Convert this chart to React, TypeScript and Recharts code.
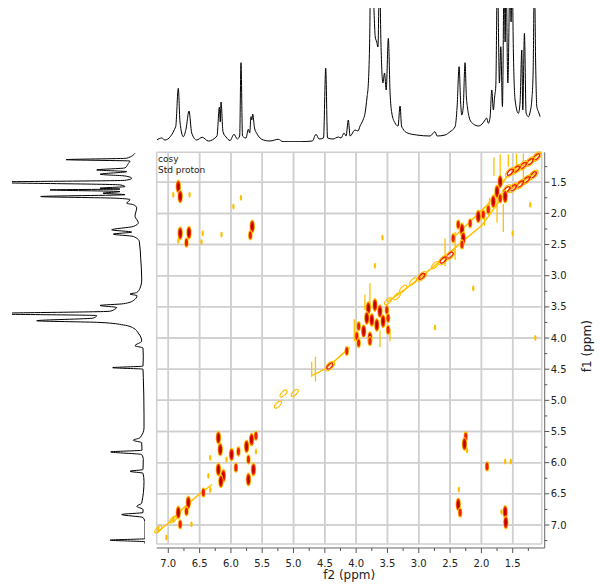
import React from 'react';
import { ScatterChart, Scatter, XAxis, YAxis, CartesianGrid, ReferenceLine } from 'recharts';

// ---------- axis domains & ticks (ppm) ----------
const F2_DOMAIN: [number, number] = [1.037, 7.185];
const F1_DOMAIN: [number, number] = [1.02, 7.305];
const F2_TICKS = [7.0, 6.75, 6.5, 6.25, 6.0, 5.75, 5.5, 5.25, 5.0, 4.75, 4.5, 4.25, 4.0, 3.75, 3.5, 3.25, 3.0, 2.75, 2.5, 2.25, 2.0, 1.75, 1.5, 1.25];
const F1_TICKS = [1.25, 1.5, 1.75, 2.0, 2.25, 2.5, 2.75, 3.0, 3.25, 3.5, 3.75, 4.0, 4.25, 4.5, 4.75, 5.0, 5.25, 5.5, 5.75, 6.0, 6.25, 6.5, 6.75, 7.0, 7.25];
const GRID_F2 = [7.0, 6.5, 6.0, 5.5, 5.0, 4.5, 4.0, 3.5, 3.0, 2.5, 2.0, 1.5];
const GRID_F1 = [1.5, 2.0, 2.5, 3.0, 3.5, 4.0, 4.5, 5.0, 5.5, 6.0, 6.5, 7.0];

// ---------- 1D proton projection on top (ppm, intensity) ----------
const topSpectrum: [number, number][] = [
  [7.185, 2], [7.105, 4], [7.053, 2], [6.882, 15.3], [6.84, 53.7], [6.813, 20], [6.76, 5.3], [6.717, 13], [6.669, 31],
  [6.626, 9], [6.546, 2], [6.457, 4.7], [6.361, 1], [6.222, 6], [6.185, 34.7], [6.17, 20], [6.158, 40], [6.126, 10],
  [6.078, 5], [6.014, 1.5], [5.95, 7.7], [5.898, 3], [5.86, 6], [5.839, 79.3], [5.815, 6], [5.759, 4], [5.722, 12.7],
  [5.70, 9], [5.679, 25.3], [5.666, 22], [5.652, 28], [5.623, 14], [5.588, 8.7], [5.535, 4], [5.482, 2], [5.375, 1],
  [5.243, 2.7], [5.168, 0.3], [4.896, 0.3], [4.70, 1], [4.641, 7.7], [4.593, 3], [4.521, 4], [4.486, 73.7], [4.457, 4],
  [4.369, 3], [4.284, 5], [4.241, 4], [4.193, 9], [4.161, 6], [4.125, 22], [4.097, 6], [4.018, 12], [3.97, 11],
  [3.938, 16], [3.89, 22], [3.858, 28.7], [3.826, 45], [3.805, 58.7], [3.786, 95], [3.767, 170], [3.738, 170],
  [3.714, 130], [3.695, 105], [3.671, 100], [3.652, 95], [3.627, 170], [3.604, 99], [3.573, 59], [3.547, 69],
  [3.52, 52], [3.486, 103.7], [3.458, 49], [3.431, 29], [3.379, 19], [3.331, 16], [3.299, 36], [3.275, 16],
  [3.251, 13], [3.192, 9.3], [3.032, 7], [2.82, 6], [2.74, 10.3], [2.708, 6], [2.58, 7], [2.5, 10.3], [2.42, 15.3],
  [2.388, 35], [2.356, 75.3], [2.332, 40], [2.313, 27], [2.29, 35], [2.261, 79.3], [2.24, 45], [2.224, 35.3],
  [2.181, 22], [2.128, 18], [2.048, 16], [1.989, 18], [1.941, 22], [1.917, 24], [1.888, 18.7], [1.861, 25],
  [1.834, 52], [1.809, 32], [1.789, 45], [1.77, 56], [1.744, 170], [1.712, 59], [1.69, 95.3], [1.664, 35.3],
  [1.637, 170], [1.621, 100], [1.606, 170], [1.578, 59], [1.542, 170], [1.526, 120], [1.509, 170], [1.489, 89],
  [1.462, 42], [1.409, 28.7], [1.382, 40], [1.355, 92], [1.339, 32], [1.313, 108.7], [1.286, 29], [1.249, 25.3],
  [1.222, 30], [1.195, 42], [1.174, 70], [1.153, 170], [1.134, 80], [1.115, 35.3], [1.089, 30.3], [1.062, 25.3],
];

// ---------- 1D proton projection on the left (ppm, intensity) ----------
const leftSpectrum: [number, number][] = [
  [1.035, 10], [1.115, 18.3], [1.138, 79], [1.16, 15], [1.20, 16.7], [1.27, 20], [1.303, 48.3], [1.33, 18.3],
  [1.372, 45], [1.40, 20], [1.437, 13.3], [1.47, 20], [1.50, 160], [1.543, 25], [1.57, 20], [1.596, 45], [1.61, 25],
  [1.623, 95], [1.65, 25], [1.676, 42], [1.70, 20], [1.73, 104.3], [1.757, 28.3], [1.78, 15], [1.837, 18.3],
  [1.86, 11.7], [1.91, 8.3], [2.045, 10], [2.15, 6.7], [2.21, 11.7], [2.264, 33.3], [2.30, 13.3], [2.333, 31.7],
  [2.37, 11.7], [2.45, 5.7], [2.72, 4.3], [3.04, 3.3], [3.07, 3.3], [3.20, 5], [3.27, 8.3], [3.295, 15], [3.32, 8],
  [3.40, 11.7], [3.45, 21.7], [3.478, 45], [3.51, 28.3], [3.535, 30], [3.57, 35], [3.61, 160], [3.64, 48.3],
  [3.68, 51.7], [3.723, 108.3], [3.75, 45], [3.79, 21.7], [3.84, 11.7], [3.92, 6.7], [4.05, 3.3], [4.124, 10],
  [4.16, 2], [4.30, 1.7], [4.45, 2], [4.476, 32.3], [4.50, 2], [4.63, 1.7], [5.23, 1], [5.44, 1], [5.60, 5],
  [5.64, 11.7], [5.68, 3.3], [5.80, 3], [5.827, 34.3], [5.87, 3.3], [5.95, 1.7], [6.11, 2], [6.138, 15], [6.17, 2],
  [6.30, 1], [6.65, 3.3], [6.70, 8.3], [6.75, 2], [6.80, 2], [6.832, 23.3], [6.88, 2], [6.96, 0], [7.22, 0],
  [7.243, 35], [7.27, 0], [7.30, 0],
];

// ---------- COSY contours: cross peaks (f2, f1, contour level) ----------
const crossPeaks: [number, number, number][] = [
  [6.84, 1.57, 3], [6.81, 1.73, 3], [6.92, 1.70, 1], [6.66, 1.70, 1], [5.84, 1.75, 1], [5.96, 1.89, 1],
  [6.81, 2.32, 3], [6.67, 2.31, 3], [6.71, 2.47, 2], [6.45, 2.32, 1], [6.15, 2.34, 1], [6.47, 2.46, 1], [6.84, 2.44, 1],
  [5.66, 2.21, 3], [5.69, 2.35, 2],
  [2.25, 5.58, 2], [2.27, 5.70, 3], [2.23, 5.80, 1],
  [1.91, 6.06, 2], [1.62, 5.98, 1], [1.53, 5.98, 1],
  [2.36, 6.43, 1], [2.37, 6.67, 3], [2.34, 6.80, 2],
  [1.62, 6.79, 3], [1.61, 6.96, 3], [1.68, 6.79, 1],
  [2.74, 3.83, 1], [1.14, 4.00, 1], [3.58, 2.39, 1], [3.70, 2.84, 1], [2.13, 3.20, 1], [1.22, 1.86, 1], [1.50, 2.32, 1],
  [6.20, 5.60, 3], [6.17, 5.79, 3], [5.99, 5.87, 3], [5.88, 5.82, 2], [5.75, 5.74, 3], [5.67, 5.63, 3], [5.60, 5.57, 2],
  [5.72, 5.95, 2], [5.92, 6.08, 2], [6.20, 6.11, 3], [6.12, 6.21, 3], [6.16, 6.30, 3], [5.64, 6.11, 3], [5.72, 6.27, 3],
  [6.07, 5.95, 1], [6.33, 5.92, 1], [5.60, 5.82, 1], [6.36, 6.21, 1], [6.33, 6.44, 1],
  [6.44, 6.48, 2], [6.68, 6.64, 3], [6.71, 6.78, 2], [6.84, 6.80, 3], [6.81, 6.99, 2], [6.92, 6.91, 1],
  [7.16, 7.07, 1], [7.03, 7.20, 1], [6.63, 6.99, 1],
  [3.805, 3.52, 3], [3.70, 3.47, 3], [3.62, 3.57, 3], [3.51, 3.55, 2], [3.83, 3.68, 3], [3.75, 3.71, 3],
  [3.67, 3.79, 3], [3.57, 3.73, 3], [3.49, 3.68, 2], [3.96, 3.81, 2], [3.88, 3.89, 3], [3.78, 4.00, 3],
  [3.99, 3.97, 2], [3.49, 3.87, 2], [3.78, 4.05, 2], [3.96, 4.08, 2], [4.15, 4.21, 2],
  [1.70, 1.49, 3], [1.75, 1.65, 3], [1.62, 1.73, 3], [1.70, 1.76, 2], [1.81, 1.81, 3], [1.89, 1.94, 2],
  [1.97, 2.02, 2], [2.05, 2.05, 3], [2.18, 2.16, 2], [2.31, 2.26, 3], [2.37, 2.18, 2], [2.45, 2.40, 2],
  [2.29, 2.40, 3], [2.31, 2.50, 2],
];

// ---------- COSY contours: peaks lying along the diagonal (f2, f1, level) ----------
const diagonalPeaks: [number, number, number][] = [
  [1.117, 1.09, 2], [1.224, 1.17, 2], [1.33, 1.23, 2], [1.44, 1.29, 2], [1.54, 1.34, 2],
  [1.17, 1.38, 2], [1.28, 1.46, 2], [1.38, 1.53, 2], [1.49, 1.59, 2], [1.595, 1.62, 2],
  [2.50, 2.67, 2], [2.61, 2.75, 2], [2.74, 2.83, 1], [2.95, 3.01, 2], [3.09, 3.09, 1], [3.25, 3.21, 1],
  [3.35, 3.33, 1], [3.49, 3.41, 1], [4.42, 4.45, 2], [4.98, 4.88, 1], [5.25, 5.07, 1], [5.16, 4.89, 1],
  [6.92, 6.91, 1], [7.16, 7.07, 1],
];

// ---------- lowest contour ridges along the diagonal (f2, f1) ----------
const ridgeUpper: [number, number][] = [[1.05, 1.03], [1.3, 1.2], [1.6, 1.42], [1.9, 1.86], [2.2, 2.15], [2.48, 2.42]];
const ridgeLower: [number, number][] = [[1.10, 1.33], [1.6, 1.65], [2.0, 2.2], [2.3, 2.45], [2.7, 2.8], [3.0, 3.05], [3.3, 3.28], [3.5, 3.42]];
const ridgeMiddle: [number, number][] = [[4.1, 4.15], [4.3, 4.33], [4.5, 4.5], [4.7, 4.6]];
const ridgeAromatic: [number, number][] = [[6.3, 6.35], [6.5, 6.5], [6.75, 6.72], [6.95, 6.93], [7.18, 7.12]];

// ---------- t1-noise streaks (f2, f1 start, f1 end) ----------
const noiseStreaks: [number, number, number][] = [
  [1.70, 1.05, 1.55], [1.33, 1.04, 1.45], [1.44, 1.04, 1.28], [1.57, 1.05, 1.25], [1.75, 1.60, 2.15],
  [1.65, 1.85, 2.30], [1.87, 1.75, 2.05], [1.95, 2.00, 2.20], [2.42, 2.30, 2.75], [2.58, 2.40, 2.85],
  [3.78, 3.12, 3.50], [3.86, 3.30, 3.55], [3.62, 3.88, 4.15], [4.03, 3.70, 4.05], [4.65, 4.30, 4.70],
  [4.71, 4.38, 4.62], [3.46, 3.85, 4.05], [1.80, 1.10, 1.40],
];

const YEL = '#FFC000';
const RED = '#EE1C00';
const DRK = '#B00000';
const GRID = '#cfcfcf';
const FONT = 'DejaVu Sans, Verdana, sans-serif';
const MAIN_MARGIN = { top: 152.3, right: 0, bottom: 0, left: 156.7 };

const noDot = () => <g />;
const emptyTick = () => <g />;

const CrossPeak = (p: any) => {
  const { cx, cy, payload } = p;
  const lv = payload.level;
  if (lv === 1) return <ellipse cx={cx} cy={cy} rx={1.2} ry={3} fill={YEL} />;
  if (lv === 2)
    return (
      <g>
        <ellipse cx={cx} cy={cy} rx={2.2} ry={5.2} fill={YEL} />
        <ellipse cx={cx} cy={cy} rx={1.5} ry={3.8} fill={RED} />
      </g>
    );
  return (
    <g>
      <ellipse cx={cx} cy={cy} rx={2.7} ry={7} fill={YEL} />
      <ellipse cx={cx} cy={cy} rx={2.0} ry={5.6} fill={RED} />
      <ellipse cx={cx} cy={cy} rx={1.0} ry={3.4} fill={DRK} />
    </g>
  );
};

const DiagPeak = (p: any) => {
  const { cx, cy, payload } = p;
  const lv = payload.level;
  return (
    <g transform={`rotate(-45 ${cx} ${cy})`}>
      <ellipse cx={cx} cy={cy} rx={lv === 1 ? 4.5 : 6} ry={lv === 1 ? 2 : 3} fill="none" stroke={YEL} strokeWidth={1.2} />
      {lv > 1 && <ellipse cx={cx} cy={cy} rx={3.8} ry={1.8} fill="none" stroke={RED} strokeWidth={1.3} />}
    </g>
  );
};

const BottomTick = (props: any) => {
  const { x, y, payload } = props;
  const v = payload.value as number;
  const major = Math.abs(v * 2 - Math.round(v * 2)) < 1e-6;
  return (
    <g>
      <line x1={x} x2={x} y1={y + 4} y2={y + (major ? 9 : 7)} stroke="#555" />
      {major && (
        <text x={x} y={y + 22.6} textAnchor="middle" fontSize={10} fill="#222" fontFamily={FONT}>
          {v.toFixed(1)}
        </text>
      )}
    </g>
  );
};

const RightTick = (props: any) => {
  const { x, y, payload } = props;
  const v = payload.value as number;
  const major = Math.abs(v * 2 - Math.round(v * 2)) < 1e-6;
  return (
    <g>
      <line x1={x + 3} x2={x + (major ? 7.6 : 5.6)} y1={y} y2={y} stroke="#555" />
      {major && (
        <text x={x + 9} y={y + 3.6} textAnchor="start" fontSize={10} fill="#222" fontFamily={FONT}>
          {v.toFixed(1)}
        </text>
      )}
    </g>
  );
};

const F2Title = (props: any) => {
  const vb = props.viewBox || { x: 156.7, y: 544, width: 385, height: 41 };
  return (
    <text x={vb.x + vb.width / 2} y={vb.y + 34.5} textAnchor="middle" fontSize={12} fill="#222" fontFamily={FONT}>
      f2 (ppm)
    </text>
  );
};

const F1Title = (props: any) => {
  const vb = props.viewBox || { x: 541.7, y: 152.3, width: 58.3, height: 391.7 };
  const x = vb.x + vb.width - 8.7;
  const y = vb.y + vb.height / 2 - 2;
  return (
    <text x={x} y={y} transform={`rotate(-90 ${x} ${y})`} textAnchor="middle" fontSize={12} fill="#222" fontFamily={FONT}>
      f1 (ppm)
    </text>
  );
};

const toXY = (arr: [number, number][]) => arr.map(([x, y]) => ({ x, y }));

export default function App() {
  const topData = toXY(topSpectrum);
  const leftData = leftSpectrum.map(([ppm, i]) => ({ x: i, y: ppm }));
  const crossData = crossPeaks.map(([x, y, level]) => ({ x, y, level }));
  const diagData = diagonalPeaks.map(([x, y, level]) => ({ x, y, level }));
  const ridges = [ridgeUpper, ridgeLower, ridgeMiddle, ridgeAromatic];
  const layer: React.CSSProperties = { position: 'absolute', left: 0, top: 0 };

  return (
    <div style={{ position: 'absolute', left: 0, top: 0, width: 600, height: 585, background: '#fff' }}>
      {/* top projection */}
      <div style={layer}>
        <ScatterChart width={600} height={150} margin={{ top: 8, right: 58.3, bottom: 8, left: 156.7 }}>
          <XAxis type="number" dataKey="x" domain={F2_DOMAIN} reversed hide allowDataOverflow />
          <YAxis type="number" dataKey="y" domain={[0, 134]} hide allowDataOverflow />
          <Scatter data={topData} line={{ stroke: '#000', strokeWidth: 1 }} lineJointType="monotoneX" shape={noDot} isAnimationActive={false} />
        </ScatterChart>
      </div>

      {/* left projection */}
      <div style={layer}>
        <ScatterChart width={150} height={585} margin={{ top: 152.3, right: 5, bottom: 41, left: 12 }}>
          <XAxis type="number" dataKey="x" domain={[0, 133]} reversed hide allowDataOverflow />
          <YAxis type="number" dataKey="y" domain={F1_DOMAIN} reversed hide allowDataOverflow />
          <Scatter data={leftData} line={{ stroke: '#000', strokeWidth: 1 }} lineJointType="monotoneY" shape={noDot} isAnimationActive={false} />
        </ScatterChart>
      </div>

      {/* 2D frame: grid + axes (peak positions registered but not drawn here) */}
      <div style={layer}>
        <ScatterChart width={600} height={585} margin={MAIN_MARGIN}>
          <XAxis
            xAxisId="g"
            orientation="top"
            type="number"
            dataKey="x"
            domain={F2_DOMAIN}
            reversed
            ticks={GRID_F2}
            interval={0}
            height={0}
            tick={emptyTick}
            tickLine={false}
            axisLine={false}
          />
          <YAxis
            yAxisId="g"
            orientation="left"
            type="number"
            dataKey="y"
            domain={F1_DOMAIN}
            reversed
            ticks={GRID_F1}
            interval={0}
            width={0}
            tick={emptyTick}
            tickLine={false}
            axisLine={false}
          />
          <CartesianGrid xAxisId="g" yAxisId="g" stroke={GRID} strokeWidth={1.5} />
          <XAxis
            type="number"
            dataKey="x"
            domain={F2_DOMAIN}
            reversed
            ticks={F2_TICKS}
            interval={0}
            height={41}
            tickSize={0}
            tickMargin={0}
            tickLine={false}
            axisLine={false}
            tick={BottomTick}
            label={<F2Title />}
          />
          <YAxis
            type="number"
            dataKey="y"
            domain={F1_DOMAIN}
            reversed
            orientation="right"
            ticks={F1_TICKS}
            interval={0}
            width={58.3}
            tickSize={0}
            tickMargin={0}
            tickLine={false}
            axisLine={false}
            tick={RightTick}
            label={<F1Title />}
          />
          <Scatter data={crossData} shape={noDot} isAnimationActive={false} />
          <Scatter xAxisId="g" yAxisId="g" data={diagData} shape={noDot} isAnimationActive={false} />
          {GRID_F2.map((v) => (
            <ReferenceLine key={`gx${v}`} x={v} stroke={GRID} strokeWidth={1.5} />
          ))}
          {GRID_F1.map((v) => (
            <ReferenceLine key={`gy${v}`} y={v} stroke={GRID} strokeWidth={1.5} />
          ))}
          <ReferenceLine segment={[{ x: 7.185, y: 7.369 }, { x: 0.989, y: 7.369 }]} stroke="#666" ifOverflow="visible" />
          <ReferenceLine segment={[{ x: 0.989, y: 1.02 }, { x: 0.989, y: 7.369 }]} stroke="#666" ifOverflow="visible" />
        </ScatterChart>
      </div>

      {/* 2D COSY contours, drawn above the grid */}
      <div style={layer}>
        <ScatterChart width={600} height={585} margin={{ ...MAIN_MARGIN, right: 58.3, bottom: 41 }}>
          <XAxis type="number" dataKey="x" domain={F2_DOMAIN} reversed hide />
          <YAxis type="number" dataKey="y" domain={F1_DOMAIN} reversed hide />
          {ridges.map((r, i) => (
            <Scatter key={`ridge${i}`} data={toXY(r)} line={{ stroke: YEL, strokeWidth: 1.5 }} shape={noDot} isAnimationActive={false} />
          ))}
          {noiseStreaks.map(([f2, a, b], i) => (
            <Scatter
              key={`streak${i}`}
              data={[{ x: f2, y: a }, { x: f2, y: b }]}
              line={{ stroke: YEL, strokeWidth: 1.3 }}
              shape={noDot}
              isAnimationActive={false}
            />
          ))}
          <Scatter data={diagData} shape={DiagPeak} isAnimationActive={false} />
          <Scatter data={crossData} shape={CrossPeak} isAnimationActive={false} />
        </ScatterChart>
      </div>

      <div style={{ position: 'absolute', left: 158, top: 154, fontFamily: FONT, fontSize: 9, lineHeight: '11px', color: '#222' }}>
        <div>cosy</div>
        <div>Std proton</div>
      </div>
    </div>
  );
}
